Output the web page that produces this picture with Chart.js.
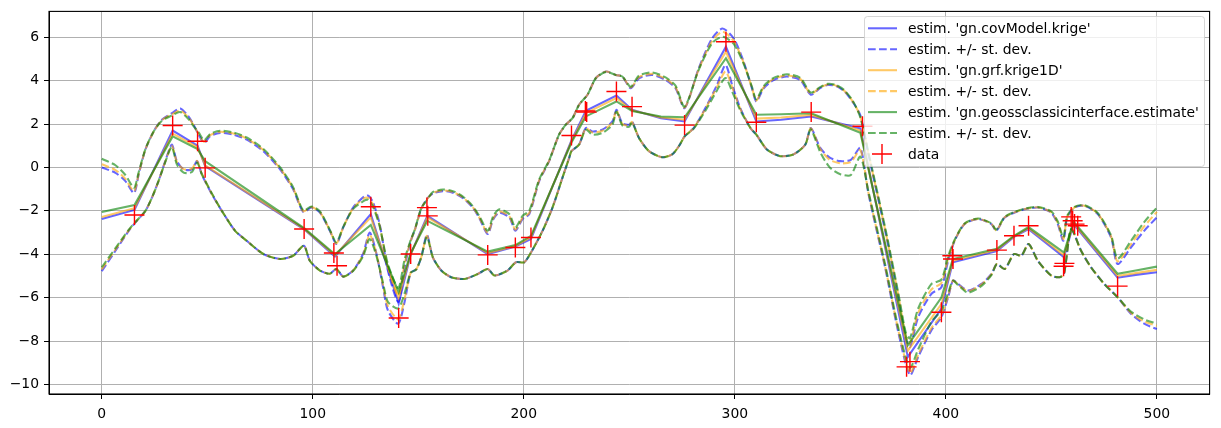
<!DOCTYPE html>
<html>
<head>
<meta charset="utf-8">
<script src="https://cdn.jsdelivr.net/npm/chart.js@4.4.0/dist/chart.umd.min.js"></script>
<style>
  html, body { margin: 0; padding: 0; background: #fff; }
  canvas { display: block; }
</style>
</head>
<body>
<canvas id="chart" width="1221" height="428"></canvas>
<script>
// Achsen-Ticks
const xTicks = [0, 100, 200, 300, 400, 500];
const yTicks = [-10, -8, -6, -4, -2, 0, 2, 4, 6];

// Messwerte
const dataX = [15.5, 33.6, 45.4, 49.0, 95.9, 110, 111.5, 127.5, 140.7, 146.4, 154.1, 154.5, 182.9, 196, 203.4,
  222.6, 229.2, 229.8, 243.9, 251.3, 276.2, 295.8, 310.2, 336.2, 360.5, 381.4, 383, 397.9, 403.1, 403.4,
  424.2, 432.3, 439.2, 456.2, 455.8, 459.4, 460.1, 461, 462.5, 481.4];
const dataY = [-2.19, 1.93, 1.21, -0.02, -2.84, -3.94, -4.53, -1.81, -6.94, -3.99, -1.85, -2.23, -4.03, -3.69, -3.23,
  1.47, 2.6, 2.55, 3.5, 2.8, 1.95, 5.79, 2.08, 2.55, 1.9, -9.19, -8.95, -6.67, -4.07, -4.22,
  -3.81, -3.15, -2.69, -4.42, -4.55, -2.28, -2.46, -2.61, -2.69, -5.47];

// Schätzungen
const estX = [0, 15.5, 33.6, 45.4, 49.0, 95.9, 110.5, 127.5, 140.7, 146.4, 154.3, 182.9, 196, 203.4, 222.6,
  229.4, 243.9, 251.3, 265, 276.2, 295.8, 310.2, 322, 336.2, 359.5, 382, 397.9, 403.3, 424.2, 432.3,
  439.2, 456, 460.5, 481.4, 490, 500];
const estCov = [-2.38, -1.96, 1.7, 1.0, 0.06, -2.85, -4.1, -2.15, -6.28, -4.0, -2.23, -3.99, -3.65, -3.3, 1.25,
  2.61, 3.31, 2.66, 2.27, 2.12, 5.56, 2.12, 2.2, 2.35, 1.8, -8.73, -6.5, -4.37, -3.85, -3.2,
  -2.84, -4.14, -2.61, -5.08, -4.95, -4.83];
const estGrf = [-2.28, -1.88, 1.56, 0.93, 0.1, -2.83, -4.05, -2.3, -6.0, -4.0, -2.3, -3.95, -3.62, -3.22, 1.2,
  2.5, 3.2, 2.63, 2.3, 2.2, 5.33, 2.25, 2.3, 2.42, 1.7, -8.45, -6.3, -4.3, -3.8, -3.18,
  -2.8, -4.05, -2.56, -5.0, -4.87, -4.72];
const estGeos = [-2.05, -1.73, 1.43, 0.85, 0.29, -2.8, -4.0, -2.65, -5.75, -3.95, -2.46, -3.88, -3.58, -3.15, 1.15,
  2.35, 3.04, 2.6, 2.35, 2.31, 5.03, 2.43, 2.45, 2.5, 1.6, -8.19, -6.0, -4.22, -3.75, -3.15,
  -2.75, -3.92, -2.5, -4.9, -4.75, -4.57];

// Schätzung + St.-Abw.
const upX = [0, 6.5, 11.2, 15.3, 17.5, 20.7, 24.6, 28.5, 33.3, 37.2, 41.1, 43.5, 46, 48.5, 51.4, 56.1, 62.4, 68.7,
  76.6, 84.5, 90.7, 95.5, 99.4, 103.4, 108.1, 111.2, 114.4, 119.1, 124.6, 126.3, 128.5, 131.7, 135.6, 140.5,
  143.5, 146.4, 148.3, 151.4, 154.1, 157, 161.6, 166, 171, 175.8, 179, 182.9, 185.5, 188.4, 193.2, 196,
  199.4, 202.6, 207.3, 212, 216.7, 219.9, 223.1, 226.2, 230.2, 234.1, 238.9, 243.6, 246.7, 250.7, 254.6,
  260.9, 267.2, 271.9, 276.2, 282.9, 289.2, 294.2, 299.5, 304.2, 308.1, 310.2, 313.7, 318.4, 324.7, 331,
  336, 340.4, 344, 348, 352, 356, 359.5, 363.3, 371.2, 377.5, 381, 383, 386.9, 393.2, 397.9, 401.1, 404.2,
  408.9, 415.3, 421.6, 423.9, 427.9, 432.6, 437.4, 443.6, 449.9, 453, 455.7, 457.5, 461, 465.7, 472,
  478.3, 481.4, 487.7, 494, 500];
const upCov = [0.0, -0.25, -0.63, -1.18, -0.32, 0.83, 1.66, 2.2, 2.5, 2.72, 2.35, 1.97, 1.5, 1.13, 1.44, 1.59, 1.51, 1.28,
  0.75, -0.09, -1.01, -2.05, -1.85, -2.08, -2.92, -3.53, -2.77, -1.85, -1.32, -1.3, -1.6, -2.61, -4.75, -6.2,
  -4.6, -3.4, -2.9, -1.9, -1.45, -1.2, -1.09, -1.15, -1.4, -1.85, -2.35, -3.07, -2.4, -2.08, -2.31, -2.92,
  -2.38, -2.15, -0.63, 0.29, 1.51, 1.97, 2.27, 2.89, 3.35, 4.11, 4.42, 4.26, 4.19, 3.65, 4.11,
  4.26, 4.03, 3.65, 2.73, 4.57, 5.94, 6.4, 5.94, 4.87, 3.65, 3.04, 3.65, 4.03, 4.19, 4.03,
  3.35, 3.65, 3.8, 3.75, 3.5, 3.0, 2.4, 0.6, -2.9, -6.0, -7.9, -8.27, -6.9, -5.82, -5.52, -4.3, -3.38,
  -2.61, -2.38, -2.61, -2.92, -2.31, -2.08, -1.93, -1.85, -2.08, -2.6, -3.38, -2.31, -1.85, -1.77, -2.15,
  -3.23, -4.45, -3.69, -2.92, -2.3];
const upGrf = [0.15, -0.12, -0.53, -1.1, -0.3, 0.83, 1.65, 2.18, 2.45, 2.62, 2.3, 1.95, 1.52, 1.18, 1.49, 1.64, 1.56, 1.33,
  0.8, -0.04, -0.96, -2.02, -1.83, -2.06, -2.9, -3.5, -2.77, -1.88, -1.4, -1.4, -1.7, -2.68, -4.6, -5.9,
  -4.45, -3.38, -2.9, -1.9, -1.47, -1.17, -1.06, -1.12, -1.37, -1.82, -2.32, -3.02, -2.35, -2.03, -2.26, -2.87,
  -2.33, -2.1, -0.6, 0.3, 1.51, 1.97, 2.27, 2.89, 3.35, 4.11, 4.42, 4.26, 4.19, 3.68, 4.16,
  4.31, 4.08, 3.7, 2.76, 4.52, 5.82, 6.25, 5.82, 4.82, 3.68, 3.08, 3.7, 4.08, 4.24, 4.08,
  3.4, 3.68, 3.82, 3.77, 3.52, 3.02, 2.35, 0.65, -2.85, -5.9, -7.75, -8.12, -6.7, -5.62, -5.32, -4.2, -3.36,
  -2.6, -2.37, -2.6, -2.9, -2.3, -2.07, -1.92, -1.84, -2.06, -2.55, -3.3, -2.28, -1.84, -1.76, -2.13,
  -3.18, -4.33, -3.54, -2.72, -2.05];
const upGeos = [0.4, 0.1, -0.35, -0.93, -0.22, 0.85, 1.66, 2.15, 2.4, 2.55, 2.23, 1.9, 1.6, 1.25, 1.54, 1.69, 1.61, 1.38,
  0.85, 0.01, -0.91, -1.98, -1.8, -2.03, -2.88, -3.45, -2.75, -1.92, -1.52, -1.5, -1.8, -2.71, -4.45, -5.55,
  -4.25, -3.35, -2.88, -1.88, -1.5, -1.13, -1.02, -1.08, -1.33, -1.78, -2.25, -2.92, -2.25, -1.93, -2.16, -2.77,
  -2.23, -2.0, -0.55, 0.32, 1.51, 1.97, 2.27, 2.89, 3.35, 4.11, 4.4, 4.26, 4.19, 3.72, 4.23,
  4.38, 4.15, 3.77, 2.8, 4.5, 5.72, 6.02, 5.69, 4.77, 3.72, 3.14, 3.75, 4.13, 4.29, 4.13,
  3.45, 3.7, 3.85, 3.8, 3.55, 3.05, 2.3, 0.7, -2.75, -5.8, -7.6, -7.87, -6.5, -5.37, -5.17, -4.1, -3.33,
  -2.58, -2.35, -2.58, -2.87, -2.28, -2.05, -1.9, -1.82, -2.02, -2.48, -3.23, -2.23, -1.82, -1.74, -2.1,
  -3.13, -4.2, -3.39, -2.52, -1.85];

// Schätzung - St.-Abw.
const lowX = [0, 6.5, 12.8, 15.9, 20.7, 23.8, 26.9, 30.1, 33.2, 35.6, 38.8, 42.7, 45.2, 47.4, 52.2, 56.9, 63.2, 68.7,
  76.6, 84.5, 90.7, 95.8, 98.6, 103.4, 108, 111.2, 114.4, 119.1, 123.8, 127, 130.2, 133.3, 135.6, 140.5,
  143.5, 146.4, 149, 151.4, 154.1, 156.9, 160.9, 165.6, 171.9, 178.2, 182.9, 186.1, 192.3, 196.3, 200.2, 203.4,
  208.9, 213.6, 218.3, 221.5, 222.6, 226.2, 229.4, 232.5, 237.2, 242, 243.9, 246.7, 249.9, 251.3, 254.6,
  259.3, 265.6, 270.3, 273.5, 276.3, 280.6, 286.9, 291.6, 295.6, 298.7, 302.6, 307.4, 310.2, 315.2, 321.5,
  327.8, 333.4, 336, 340.5, 345, 350, 355, 359.5, 363.3, 371.2, 377.5, 383, 386.9, 393.2, 397.9, 401.1,
  403.4, 405.8, 410.5, 416.8, 421.6, 424.2, 427.9, 432.3, 435.8, 439.2, 443.6, 449.9, 453.9, 456, 459.4,
  464.1, 468.8, 475.1, 481.4, 487.7, 494, 500];
const lowCov = [-4.78, -3.84, -2.92, -2.54, -2.0, -1.39, -0.63, 0.29, 1.05, 0.29, -0.09, -0.09, 0.29, -0.32, -1.24, -2.0, -2.92, -3.38,
  -3.99, -4.22, -4.07, -3.61, -4.3, -4.75, -4.9, -4.68, -5.03, -4.75, -3.99, -3.0, -3.99, -5.52, -6.59, -7.2,
  -6.2, -4.85, -4.7, -4.14, -3.1, -4.14, -4.75, -5.06, -5.14, -4.91, -4.68, -4.98, -4.75, -4.37, -4.37, -3.92,
  -2.92, -1.85, -0.48, 0.44, 0.75, 1.05, 1.82, 1.66, 1.74, 2.12, 2.66, 2.04, 1.97, 2.12, 1.36,
  0.75, 0.47, 0.6, 0.98, 1.44, 1.82, 2.89, 3.81, 4.72, 3.81, 2.73, 1.82, 1.51, 0.83, 0.52,
  0.6, 1.05, 1.82, 0.9, 0.45, 0.29, 0.35, 0.9, -1.2, -4.6, -7.6, -9.57, -8.73, -7.5, -6.9, -5.98,
  -5.21, -5.37, -5.67, -5.37, -4.91, -4.45, -4.68, -3.99, -4.07, -3.53, -4.3, -4.98, -5.06, -4.9, -2.85,
  -3.84, -4.6, -5.37, -5.98, -6.74, -7.2, -7.45];
const lowGrf = [-4.7, -3.78, -2.9, -2.53, -2.0, -1.39, -0.63, 0.27, 1.0, 0.25, -0.08, -0.06, 0.3, -0.3, -1.22, -2.0, -2.92, -3.38,
  -3.99, -4.22, -4.07, -3.61, -4.3, -4.75, -4.9, -4.68, -5.03, -4.75, -4.03, -3.1, -4.0, -5.42, -6.39, -7.0,
  -6.05, -4.85, -4.7, -4.14, -3.15, -4.14, -4.75, -5.06, -5.14, -4.91, -4.68, -4.98, -4.75, -4.37, -4.37, -3.92,
  -2.92, -1.85, -0.48, 0.44, 0.75, 1.05, 1.8, 1.61, 1.69, 2.07, 2.63, 2.0, 1.93, 2.1, 1.36,
  0.75, 0.47, 0.6, 0.98, 1.44, 1.82, 2.85, 3.71, 4.42, 3.71, 2.7, 1.82, 1.51, 0.83, 0.52,
  0.6, 1.05, 1.8, 0.85, 0.35, 0.19, 0.25, 0.8, -1.15, -4.55, -7.5, -9.47, -8.63, -7.4, -6.8, -5.93,
  -5.21, -5.39, -5.7, -5.4, -4.93, -4.45, -4.68, -3.99, -4.07, -3.53, -4.3, -4.98, -5.06, -4.9, -2.85,
  -3.84, -4.6, -5.37, -5.98, -6.7, -7.1, -7.3];
const lowGeos = [-4.6, -3.72, -2.87, -2.52, -2.0, -1.39, -0.63, 0.25, 0.95, 0.14, -0.24, -0.21, 0.22, -0.3, -1.2, -2.0, -2.92, -3.38,
  -3.99, -4.22, -4.07, -3.61, -4.3, -4.75, -4.9, -4.68, -5.03, -4.77, -4.1, -3.3, -4.09, -5.32, -6.19, -6.5,
  -5.8, -4.85, -4.7, -4.14, -3.2, -4.14, -4.75, -5.06, -5.14, -4.91, -4.68, -4.98, -4.75, -4.37, -4.37, -3.92,
  -2.92, -1.85, -0.48, 0.44, 0.75, 1.05, 1.75, 1.51, 1.59, 1.97, 2.58, 1.94, 1.87, 2.07, 1.36,
  0.75, 0.47, 0.6, 0.98, 1.44, 1.8, 2.75, 3.56, 4.12, 3.51, 2.63, 1.82, 1.51, 0.83, 0.52,
  0.6, 1.05, 1.75, 0.7, 0.0, -0.31, -0.35, 0.5, -1.1, -4.45, -7.4, -9.22, -8.38, -7.1, -6.6, -5.78,
  -5.21, -5.42, -5.77, -5.47, -4.96, -4.45, -4.68, -3.99, -4.07, -3.53, -4.3, -4.98, -5.06, -4.9, -2.85,
  -3.84, -4.6, -5.37, -5.98, -6.64, -7.0, -7.2];

const BLUE = 'rgba(0, 0, 255, 0.6)';
const ORANGE = 'rgba(255, 165, 0, 0.6)';
const GREEN = 'rgba(0, 128, 0, 0.6)';
const LW = 2.08;
const DASH = [7.7, 3.33];
const FONT = '"DejaVu Sans", sans-serif';

function pts(xs, ys) {
    return xs.map((x, i) => ({ x: x, y: ys[i] }));
}

function line(label, xs, ys, color, dashed) {
    return {
        label: label,
        data: pts(xs, ys),
        showLine: true,
        borderColor: color,
        borderWidth: LW,
        borderDash: dashed ? DASH : [],
        pointRadius: 0,
        tension: dashed ? 0.25 : 0
    };
}

const datasets = [
    line("estim. 'gn.covModel.krige'", estX, estCov, BLUE, false),
    line('estim. +/- st. dev.', upX, upCov, BLUE, true),
    line(undefined, lowX, lowCov, BLUE, true),
    line("estim. 'gn.grf.krige1D'", estX, estGrf, ORANGE, false),
    line('estim. +/- st. dev.', upX, upGrf, ORANGE, true),
    line(undefined, lowX, lowGrf, ORANGE, true),
    line("estim. 'gn.geossclassicinterface.estimate'", estX, estGeos, GREEN, false),
    line('estim. +/- st. dev.', upX, upGeos, GREEN, true),
    line(undefined, lowX, lowGeos, GREEN, true),
    {
        label: 'data',
        data: pts(dataX, dataY),
        showLine: false,
        pointStyle: 'cross',
        pointRadius: 10,
        pointBorderColor: '#ff0000',
        pointBorderWidth: 1.4,
        borderColor: '#ff0000',
        borderWidth: 1.4
    }
];
// später gezeichnete Serien liegen oben
datasets.forEach((d, i) => { d.order = datasets.length - i; });

// Rahmen um die Achsen
const frame = {
    id: 'frame',
    afterDatasetsDraw(chart) {
        const a = chart.chartArea;
        const c = chart.ctx;
        c.save();
        c.strokeStyle = '#000';
        c.lineWidth = 1.1;
        c.strokeRect(a.left, a.top, a.right - a.left, a.bottom - a.top);
        c.restore();
    }
};

// Legende oben rechts
const legendBox = {
    id: 'legendBox',
    afterDraw(chart) {
        const c = chart.ctx;
        const items = chart.data.datasets.filter(d => d.label);
        c.save();
        c.beginPath();
        c.roundRect(864.5, 16.5, 340, 150, 3);
        c.fillStyle = 'rgba(255, 255, 255, 0.8)';
        c.fill();
        c.strokeStyle = 'rgba(204, 204, 204, 0.8)';
        c.lineWidth = 1;
        c.stroke();
        c.font = '13.9px ' + FONT;
        c.textBaseline = 'middle';
        items.forEach((d, i) => {
            const y = 28.3 + i * 20.95;
            c.strokeStyle = d.borderColor;
            if (d.showLine === false) {
                c.lineWidth = 1.4;
                c.setLineDash([]);
                c.beginPath();
                c.moveTo(872, y); c.lineTo(892, y);
                c.moveTo(882, y - 10); c.lineTo(882, y + 10);
                c.stroke();
            } else {
                c.lineWidth = LW;
                c.setLineDash(d.borderDash);
                c.beginPath();
                c.moveTo(868, y); c.lineTo(897, y);
                c.stroke();
            }
            c.setLineDash([]);
            c.fillStyle = '#000';
            c.fillText(d.label, 908, y + 1);
        });
        c.restore();
    }
};

function minus(v) {
    return v < 0 ? '\u2212' + Math.abs(v) : String(v);
}

const ctx = document.getElementById('chart').getContext('2d');
const chart = new Chart(ctx, {
    type: 'scatter',
    data: { datasets: datasets },
    options: {
        responsive: false,
        animation: false,
        events: [],
        layout: { padding: { top: 9, right: 10, left: 0, bottom: 0 } },
        plugins: {
            legend: { display: false },
            tooltip: { enabled: false }
        },
        scales: {
            x: {
                type: 'linear',
                min: -25,
                max: 525,
                afterBuildTicks: s => { s.ticks = xTicks.map(v => ({ value: v })); },
                afterFit: s => { s.height = 34; s.paddingLeft = 0; s.paddingRight = 0; },
                grid: { color: '#b0b0b0', lineWidth: 1, tickColor: '#000', tickLength: 5 },
                border: { color: '#000', width: 1 },
                ticks: { color: '#000', font: { family: FONT, size: 13.9 }, padding: 7, maxRotation: 0, autoSkip: false }
            },
            y: {
                type: 'linear',
                min: -10.44,
                max: 7.19,
                afterBuildTicks: s => { s.ticks = yTicks.map(v => ({ value: v })); },
                afterFit: s => { s.width = 49; s.paddingTop = 0; s.paddingBottom = 0; },
                grid: { color: '#b0b0b0', lineWidth: 1, tickColor: '#000', tickLength: 5 },
                border: { color: '#000', width: 1 },
                ticks: { color: '#000', font: { family: FONT, size: 13.9 }, padding: 5, callback: v => minus(v) }
            }
        }
    },
    plugins: [frame, legendBox]
});
</script>
</body>
</html>
